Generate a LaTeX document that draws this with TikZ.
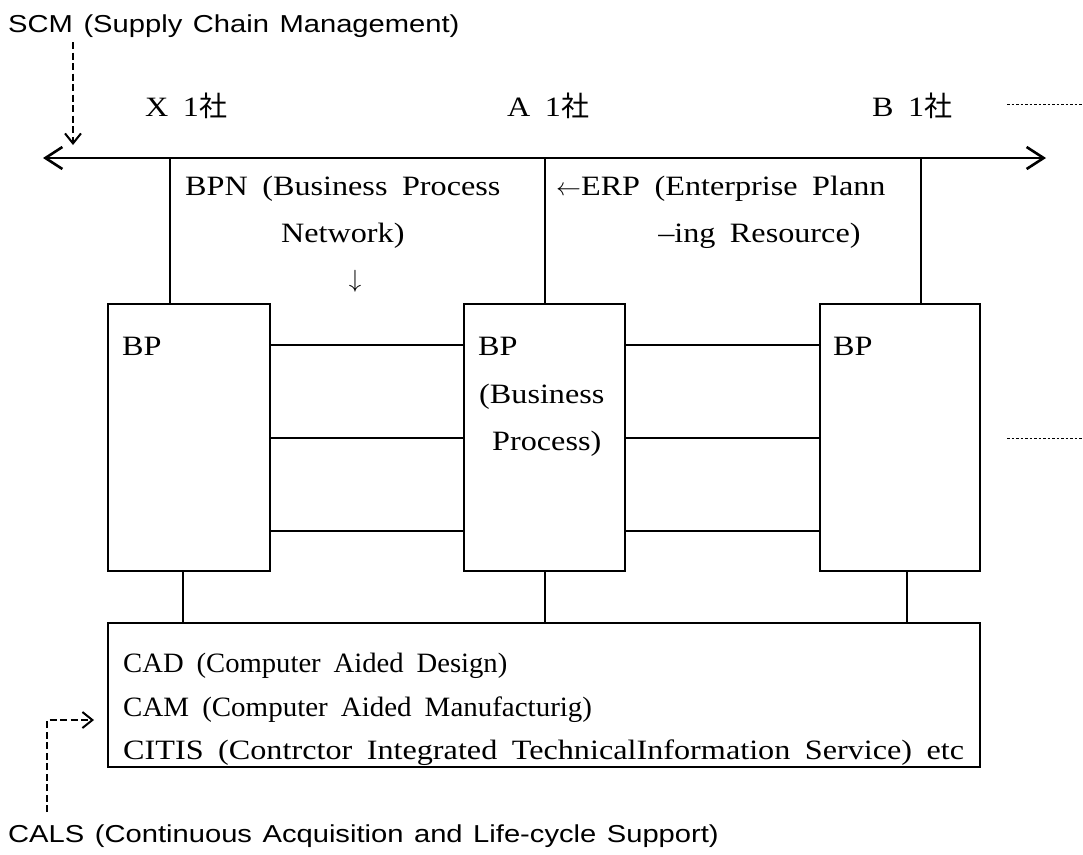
\documentclass[tikz,border=0pt]{standalone}
\usepackage{graphicx}
\usepackage{fontspec}
\setmainfont[FakeStretch=1.15,WordSpace=1.8]{Liberation Serif}
\newfontfamily\gothic[FakeStretch=1.19,WordSpace=1.3]{Liberation Sans}
\newfontfamily\cjk{Noto Sans CJK JP}
\usetikzlibrary{arrows.meta}

\begin{document}
\begin{tikzpicture}[x=1pt,y=-1pt,
  serif/.style={font=\fontsize{28}{34}\selectfont, inner sep=0pt, anchor=base west},
  gothic/.style={font=\gothic\fontsize{24.5}{30}\selectfont, inner sep=0pt, anchor=base west},
  frame/.style={draw, line width=1.4pt, inner sep=0pt, outer sep=0pt},
  link/.style={line width=1.3pt},
  spine/.style={line width=2pt,
    {Straight Barb[length=17pt,width=22pt,line width=2.6pt]}-{Straight Barb[length=17pt,width=22pt,line width=2.6pt]}},
  hint/.style={line width=1.8pt, dash pattern=on 7pt off 3.5pt,
    -{Straight Barb[length=10pt,width=16pt,line width=2pt]}},
  trail/.style={line width=1pt, dash pattern=on 2.5pt off 2pt}
]
\path[use as bounding box] (0,0) rectangle (1083,854);

% company axis
\coordinate (wL) at (43,158);
\coordinate (wR) at (1046,158);
\draw[spine] (wL) -- (wR);

% company labels
\node[serif] (x1) at (145,116) {X 1{\cjk 社}};
\node[serif] (a1) at (507,116) {A 1{\cjk 社}};
\node[serif] (b1) at (872,116) {B 1{\cjk 社}};

% business process boxes
\node[frame, minimum width=162pt, minimum height=267pt] (bpL) at (189,437.5) {};
\node[frame, minimum width=161pt, minimum height=267pt] (bpM) at (544.5,437.5) {};
\node[frame, minimum width=160pt, minimum height=267pt] (bpR) at (900,437.5) {};

% drops from the axis to the boxes
\coordinate (tL) at (170,158);
\coordinate (tM) at (545,158);
\coordinate (tR) at (921,158);
\draw[link] (tL) -- (tL |- bpL.north);
\draw[link] (tM) -- (tM |- bpM.north);
\draw[link] (tR) -- (tR |- bpR.north);

% process network links
\foreach \yy in {345,438,531}{
  \coordinate (h) at (0,\yy);
  \draw[link] (bpL.east |- h) -- (bpM.west |- h);
  \draw[link] (bpM.east |- h) -- (bpR.west |- h);
}

% engineering systems box
\node[frame, minimum width=872pt, minimum height=144pt] (sys) at (544,695) {};
\coordinate (uL) at (183,0);
\coordinate (uM) at (545,0);
\coordinate (uR) at (907,0);
\draw[link] (uL |- bpL.south) -- (uL |- sys.north);
\draw[link] (uM |- bpM.south) -- (uM |- sys.north);
\draw[link] (uR |- bpR.south) -- (uR |- sys.north);

% texts
\node[gothic] (scm) at (8,32) {SCM (Supply Chain Management)};
\node[gothic] (cals) at (8,842) {CALS (Continuous Acquisition and Life-cycle Support)};

\node[serif] (bpn1) at (185,195) {BPN (Business Process};
\coordinate (l2) at (0,242);
\node[serif, anchor=base] (bpn2) at (bpn1.base |- l2) {Network)};
\node[serif, anchor=base] (bpnarr) at (355,287) {$\downarrow$};

\node[serif] (erp1) at (556,195) {$\leftarrow$ERP (Enterprise Plann};
\node[serif, anchor=base east] (erp2) at ([xshift=-25pt]erp1.base east |- l2) {--ing Resource)};

\node[serif] (bpLt) at (122,355) {BP};
\node[serif] (bpMt) at (478,355) {BP};
\node[serif] (bpMt2) at (479,403) {(Business};
\node[serif] (bpMt3) at (492,450) {Process)};
\node[serif] (bpRt) at (833,355) {BP};

\node[serif] (cad) at (123,672) {\scalebox{0.89}[1]{CAD (Computer Aided Design)}};
\node[serif] (cam) at (123,716) {\scalebox{0.9}[1]{CAM (Computer Aided Manufacturig)}};
\node[serif] (citis) at (123,759) {CITIS (Contrctor Integrated TechnicalInformation Service) etc};

% dashed pointers
\coordinate (scmtip) at (73,145);
\draw[hint] (73,42) -- (scmtip);
\coordinate (calsbend) at (47,720);
\coordinate (calstip) at (94,720);
\draw[hint] (47,812) -- (calsbend) -- (calstip);

% dotted continuations
\coordinate (dTa) at (1007,104);
\coordinate (dTb) at (1083,104);
\coordinate (dMa) at (1007,438);
\coordinate (dMb) at (1083,438);
\draw[trail] (dTa) -- (dTb);
\draw[trail] (dMa) -- (dMb);
\end{tikzpicture}
\end{document}
